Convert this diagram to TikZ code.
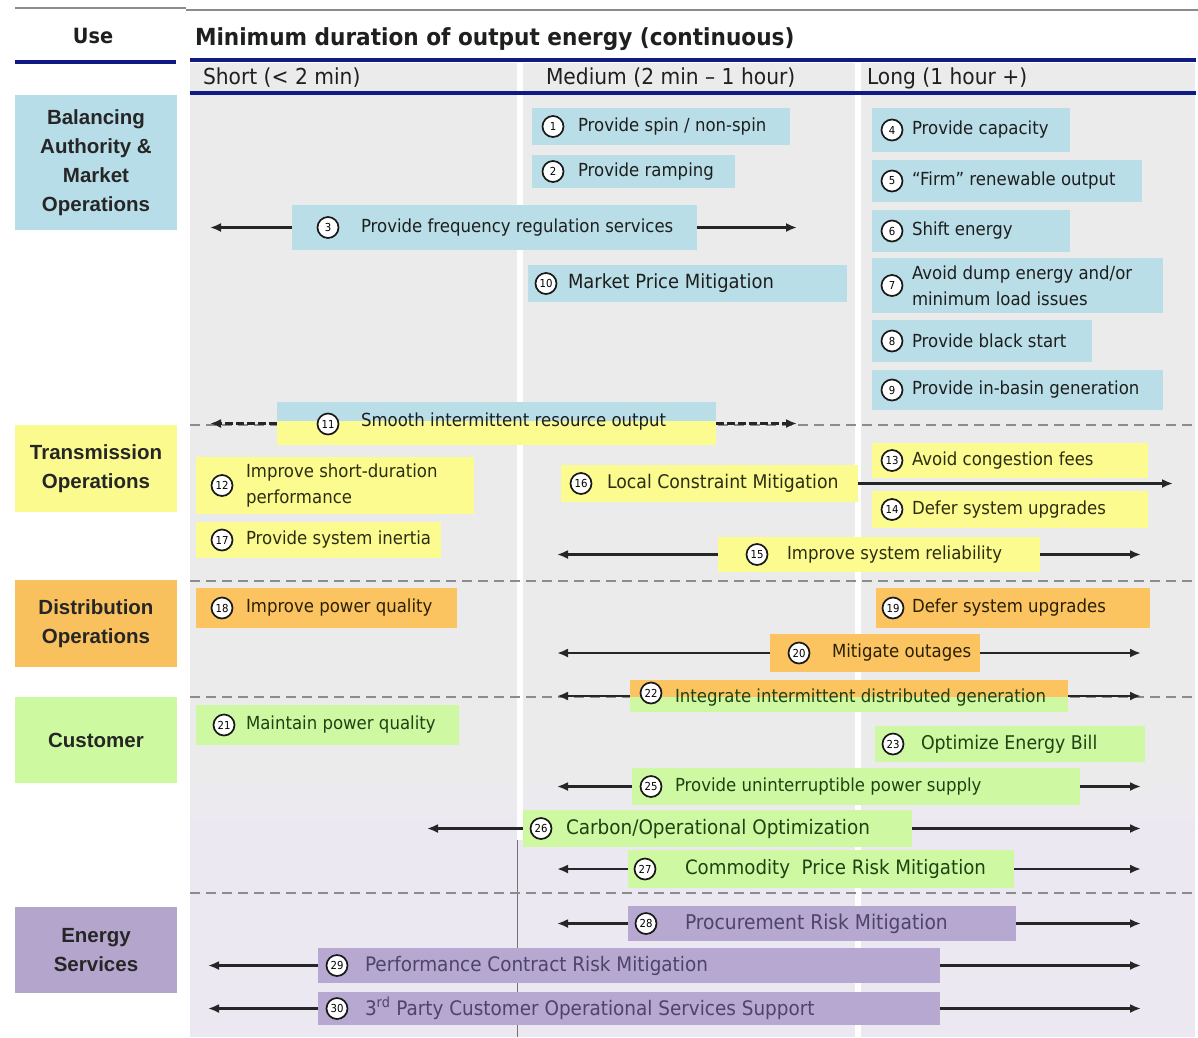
\documentclass[tikz,border=0pt]{standalone}
\usepackage{fontspec}
\setmainfont{DejaVu Sans}[FakeStretch=0.92]
\newfontfamily\catfont{Liberation Sans}
\usetikzlibrary{arrows.meta}
\definecolor{cblue}{HTML}{B7DDE8}
\definecolor{iblue}{HTML}{B9DEE7}
\definecolor{cyel}{HTML}{FAFA8E}
\definecolor{iyel}{HTML}{FBFB90}
\definecolor{corg}{HTML}{F9C15D}
\definecolor{iorg}{HTML}{FBC460}
\definecolor{cgrn}{HTML}{CDF9A0}
\definecolor{igrn}{HTML}{CEF9A2}
\definecolor{cpur}{HTML}{B3A5CC}
\definecolor{ipur}{HTML}{B6A8D0}
\definecolor{bggray}{HTML}{EBEBEB}
\definecolor{lav}{HTML}{ECE8F2}
\definecolor{navy}{HTML}{101A85}
\definecolor{dashgray}{HTML}{8C8C8C}
\definecolor{tblue}{HTML}{1E1E1E}
\definecolor{tyel}{HTML}{2D2D12}
\definecolor{torg}{HTML}{2A2005}
\definecolor{tgrn}{HTML}{1F4212}
\definecolor{tpur}{HTML}{4E4468}
\newcommand\lgsz[1]{\fontsize{#1}{24}\selectfont}
\newcommand\IB[9]{%
  \pgfmathsetmacro\ibw{#5-#3}\pgfmathsetmacro\ibh{#6-#4}%
  \node[#2box,minimum width=\ibw pt,minimum height=\ibh pt,anchor=north west] (b#1) at (#3,#4) {};%
  \node[num] (n#1) at (#7,{(#4+#6)/2}) {#1};%
  \node[itxt,#2txt,anchor=west] (t#1) at (#8,{(#4+#6)/2}) {#9};%
}
\begin{document}
\begin{tikzpicture}[x=1pt,y=-1pt,
  every node/.style={inner sep=0pt,outer sep=0pt},
  blbox/.style={rectangle,fill=iblue}, yebox/.style={rectangle,fill=iyel},
  orbox/.style={rectangle,fill=iorg}, grbox/.style={rectangle,fill=igrn},
  pubox/.style={rectangle,fill=ipur},
  bltxt/.style={text=tblue}, yetxt/.style={text=tyel}, ortxt/.style={text=torg},
  grtxt/.style={text=tgrn}, putxt/.style={text=tpur},
  itxt/.style={font=\fontsize{18}{26}\selectfont,align=left},
  num/.style={circle,draw=black!90,line width=1.7pt,fill=white,minimum size=21pt,font=\fontsize{11}{11}\selectfont},
  arr/.style={draw=black!85,line width=2.6pt,-{Latex[length=11pt,width=9pt]}},
  sep/.style={draw=dashgray,line width=2.5pt,dash pattern=on 10pt off 6pt},
  cat/.style={rectangle,anchor=north west,minimum width=162pt,align=center,text=black!85,font=\catfont\bfseries\fontsize{20.5}{29}\selectfont},
  hdr/.style={anchor=west,text=black!88,font=\fontsize{22}{24}\selectfont}
]
\useasboundingbox (0,0) rectangle (1198,1037);
\fill[white] (0,0) rectangle (1198,1037);
% backgrounds
\fill[bggray] (190,63) rectangle (1195,1037);
\shade[top color=bggray,bottom color=lav] (190,770) rectangle (1195,830);
\fill[lav] (190,830) rectangle (1195,1037);
\fill[white] (517,63) rectangle (523,840);
\draw[black!55,line width=1pt] (517,840) -- (517,1037);
\fill[white] (855,63) rectangle (861,1037);
% header lines
\draw[black!45,line width=1.5pt] (15,8) -- (186,8) (186,10) -- (1198,10);
\draw[navy,line width=3.5pt] (15,62) -- (176,62);
\draw[navy,line width=4pt] (190,60) -- (1196,60);
\draw[navy,line width=4pt] (190,93) -- (1196,93);
% header texts
\node[text=black!88,font=\bfseries\fontsize{21}{24}\selectfont] (use) at (93,36) {Use};
\node[anchor=west,text=black!88,font=\bfseries\fontsize{23.5}{26}\selectfont] (title) at (195,39) {Minimum duration of output energy (continuous)};
\node[hdr] (short) at (203,78) {Short (< 2 min)};
\node[hdr] (medium) at (546,78) {Medium (2 min – 1 hour)};
\node[hdr] (long) at (867,78) {Long (1 hour +)};
% category boxes
\node[cat,fill=cblue,minimum height=135pt] (c1) at (15,95) {Balancing\\Authority \&\\Market\\Operations};
\node[cat,fill=cyel,minimum height=87pt] (c2) at (15,425) {Transmission\\Operations};
\node[cat,fill=corg,minimum height=87pt] (c3) at (15,580) {Distribution\\Operations};
\node[cat,fill=cgrn,minimum height=86pt] (c4) at (15,697) {Customer};
\node[cat,fill=cpur,minimum height=86pt] (c5) at (15,907) {Energy\\Services};
% dashed separators
\draw[sep] (190,425) -- (1196,425);
\draw[sep] (190,581) -- (1196,581);
\draw[sep] (190,697) -- (1196,697);
\draw[sep] (190,893) -- (1196,893);
% arrow end x-positions
\coordinate (L1) at (210,0);
\coordinate (L2) at (557,0);
\coordinate (L3) at (427,0);
\coordinate (L4) at (208,0);
\coordinate (R1) at (797,0);
\coordinate (R2) at (1141,0);
\coordinate (R3) at (1173,0);
% items
\IB{1}{bl}{532}{108}{790}{145}{553}{578}{Provide spin / non-spin}
\IB{2}{bl}{532}{155}{735}{188}{553}{578}{Provide ramping}
\IB{3}{bl}{292}{205}{697}{250}{328}{361}{Provide frequency regulation services}
\IB{4}{bl}{872}{108}{1070}{152}{892}{912}{Provide capacity}
\IB{5}{bl}{872}{160}{1142}{202}{892}{912}{``Firm'' renewable output}
\IB{6}{bl}{872}{210}{1070}{252}{892}{912}{Shift energy}
\IB{7}{bl}{872}{258}{1163}{313}{892}{912}{Avoid dump energy and/or\\minimum load issues}
\IB{8}{bl}{872}{320}{1092}{362}{892}{912}{Provide black start}
\IB{9}{bl}{872}{370}{1163}{410}{892}{912}{Provide in-basin generation}
\IB{10}{bl}{528}{265}{847}{302}{546}{568}{\lgsz{19.5}Market Price Mitigation}
% item 11 (split)
\fill[iblue] (277,402) rectangle (716,421);
\fill[iyel] (277,421) rectangle (716,445);
\node[rectangle,minimum width=439pt,minimum height=43pt,anchor=north west] (b11) at (277,402) {};
\node[num] (n11) at (328,424) {11};
\node[itxt,bltxt,anchor=west] (t11) at (361,422) {Smooth intermittent resource output};
\IB{12}{ye}{196}{457}{474}{514}{222}{246}{Improve short-duration\\performance}
\IB{13}{ye}{872}{443}{1148}{478}{892}{912}{Avoid congestion fees}
\IB{14}{ye}{872}{491}{1148}{528}{892}{912}{Defer system upgrades}
\IB{15}{ye}{718}{537}{1040}{572}{757}{787}{Improve system reliability}
\IB{16}{ye}{561}{465}{858}{502}{581}{607}{\lgsz{18.8}Local Constraint Mitigation}
\IB{17}{ye}{196}{522}{441}{558}{222}{246}{Provide system inertia}
\IB{18}{or}{196}{588}{457}{628}{222}{246}{Improve power quality}
\IB{19}{or}{876}{588}{1150}{628}{893}{912}{Defer system upgrades}
\IB{20}{or}{770}{634}{980}{672}{799}{832}{Mitigate outages}
% item 22 (split)
\fill[iorg] (630,680) rectangle (1068,697);
\fill[igrn] (630,697) rectangle (1068,712);
\node[rectangle,minimum width=438pt,minimum height=32pt,anchor=north west] (b22) at (630,680) {};
\node[num] (n22) at (651,693) {22};
\node[itxt,grtxt,anchor=west] (t22) at (675,698) {Integrate intermittent distributed generation};
\IB{21}{gr}{196}{705}{459}{745}{224}{246}{Maintain power quality}
\IB{23}{gr}{875}{726}{1145}{762}{893}{921}{\lgsz{18.9}Optimize Energy Bill}
\IB{25}{gr}{632}{768}{1080}{805}{651}{675}{Provide uninterruptible power supply}
\IB{26}{gr}{523}{810}{912}{847}{541}{566}{\lgsz{20}Carbon/Operational Optimization}
\IB{27}{gr}{628}{850}{1014}{888}{645}{685}{\lgsz{19.8}Commodity~ Price Risk Mitigation}
\IB{28}{pu}{628}{906}{1016}{941}{646}{685}{\lgsz{20.3}Procurement Risk Mitigation}
\IB{29}{pu}{318}{948}{940}{983}{337}{365}{\lgsz{20}Performance Contract Risk Mitigation}
\IB{30}{pu}{318}{992}{940}{1025}{337}{365}{\lgsz{20}3\textsuperscript{rd} Party Customer Operational Services Support}
% arrows
\draw[arr] (b3.west) -- (L1 |- b3.west);
\draw[arr] (b3.east) -- (R1 |- b3.east);
\draw[arr,dash pattern=on 8pt off 3pt] (b11.west) -- (L1 |- b11.west);
\draw[arr,dash pattern=on 8pt off 3pt] (b11.east) -- (R1 |- b11.east);
\draw[arr] (b16.east) -- (R3 |- b16.east);
\draw[arr] (b15.west) -- (L2 |- b15.west);
\draw[arr] (b15.east) -- (R2 |- b15.east);
\draw[arr] (b20.west) -- (L2 |- b20.west);
\draw[arr] (b20.east) -- (R2 |- b20.east);
\draw[arr] (b22.west) -- (L2 |- b22.west);
\draw[arr] (b22.east) -- (R2 |- b22.east);
\draw[arr] (b25.west) -- (L2 |- b25.west);
\draw[arr] (b25.east) -- (R2 |- b25.east);
\draw[arr] (b26.west) -- (L3 |- b26.west);
\draw[arr] (b26.east) -- (R2 |- b26.east);
\draw[arr] (b27.west) -- (L2 |- b27.west);
\draw[arr] (b27.east) -- (R2 |- b27.east);
\draw[arr] (b28.west) -- (L2 |- b28.west);
\draw[arr] (b28.east) -- (R2 |- b28.east);
\draw[arr] (b29.west) -- (L4 |- b29.west);
\draw[arr] (b29.east) -- (R2 |- b29.east);
\draw[arr] (b30.west) -- (L4 |- b30.west);
\draw[arr] (b30.east) -- (R2 |- b30.east);
\end{tikzpicture}
\end{document}
